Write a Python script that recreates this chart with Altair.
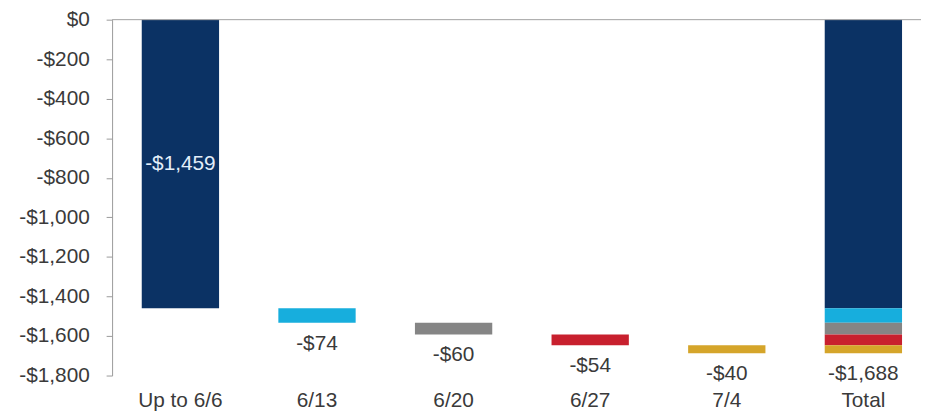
import altair as alt
import pandas as pd

categories = ["Up to 6/6", "6/13", "6/20", "6/27", "7/4", "Total"]
steps = [-1459, -74, -60, -54, -40]
total_value = -1688
colors = ["#0b3264", "#17aedd", "#858585", "#c8202e", "#d5a52a"]
y_ticks = [0, -200, -400, -600, -800, -1000, -1200, -1400, -1600, -1800]

FONT = "Liberation Sans"
FS = 21

# bars (waterfall + stacked total)
rows = []
cum = 0
for cat, v, c in zip(categories[:5], steps, colors):
    rows.append(dict(cat=cat, y=cum, y2=cum + v, color=c))
    rows.append(dict(cat="Total", y=cum, y2=cum + v, color=c))
    cum += v
bars_df = pd.DataFrame(rows)


def money(v):
    return "-$" + format(abs(v), ",")


# labels
inside_df = pd.DataFrame([dict(cat=categories[0], pos=steps[0] / 2, text=money(steps[0]))])
below_rows = []
cum = steps[0]
for cat, v in zip(categories[1:5], steps[1:]):
    cum += v
    below_rows.append(dict(cat=cat, pos=cum, text=money(v)))
below_rows.append(dict(cat="Total", pos=cum, text=money(total_value)))
below_df = pd.DataFrame(below_rows)

xscale = alt.Scale(domain=categories, paddingInner=0.434, paddingOuter=0.178, align=0.61)
yscale = alt.Scale(domain=[-1800, 0], nice=False)

x_enc = alt.X(
    "cat:N",
    scale=xscale,
    sort=categories,
    title=None,
    axis=alt.Axis(
        domain=False,
        ticks=False,
        labelAngle=0,
        labelFont=FONT,
        labelFontSize=FS,
        labelColor="#3a3a3a",
        labelPadding=14,
        labelOverlap=False,
    ),
)

bars = alt.Chart(bars_df).mark_bar().encode(
    x=x_enc,
    y=alt.Y(
        "y:Q",
        scale=yscale,
        title=None,
        axis=alt.Axis(
            values=y_ticks,
            tickCount=len(y_ticks),
            grid=False,
            domainColor="#9a9a9a",
            tickColor="#9a9a9a",
            tickSize=6,
            labelFont=FONT,
            labelFontSize=FS,
            labelColor="#3a3a3a",
            labelPadding=17,
            labelOverlap=False,
            labelExpr="datum.value == 0 ? '$0' : '-$' + format(-datum.value, ',')",
        ),
    ),
    y2="y2:Q",
    color=alt.Color("color:N", scale=None),
)

zero_rule = alt.Chart(pd.DataFrame({"y": [0]})).mark_rule(color="#a0a0a0", strokeWidth=1).encode(
    y=alt.Y("y:Q", scale=yscale)
)

inside_text = alt.Chart(inside_df).mark_text(
    font=FONT, fontSize=FS, color="#e3eef9", baseline="middle"
).encode(x=alt.X("cat:N", scale=xscale, sort=categories), y=alt.Y("pos:Q", scale=yscale), text="text:N")

below_text = alt.Chart(below_df).mark_text(
    font=FONT, fontSize=FS, color="#3a3a3a", baseline="middle", dy=21
).encode(x=alt.X("cat:N", scale=xscale, sort=categories), y=alt.Y("pos:Q", scale=yscale), text="text:N")

chart = (
    alt.layer(bars, zero_rule, inside_text, below_text)
    .properties(
        width=816,
        height=359,
        autosize=alt.AutoSizeParams(type="none"),
        padding={"left": 105, "top": 10, "right": 0, "bottom": 35},
        background="white",
    )
    .configure_view(stroke=None)
)

chart.save("out.html", embed_options={"renderer": "svg", "actions": False})
